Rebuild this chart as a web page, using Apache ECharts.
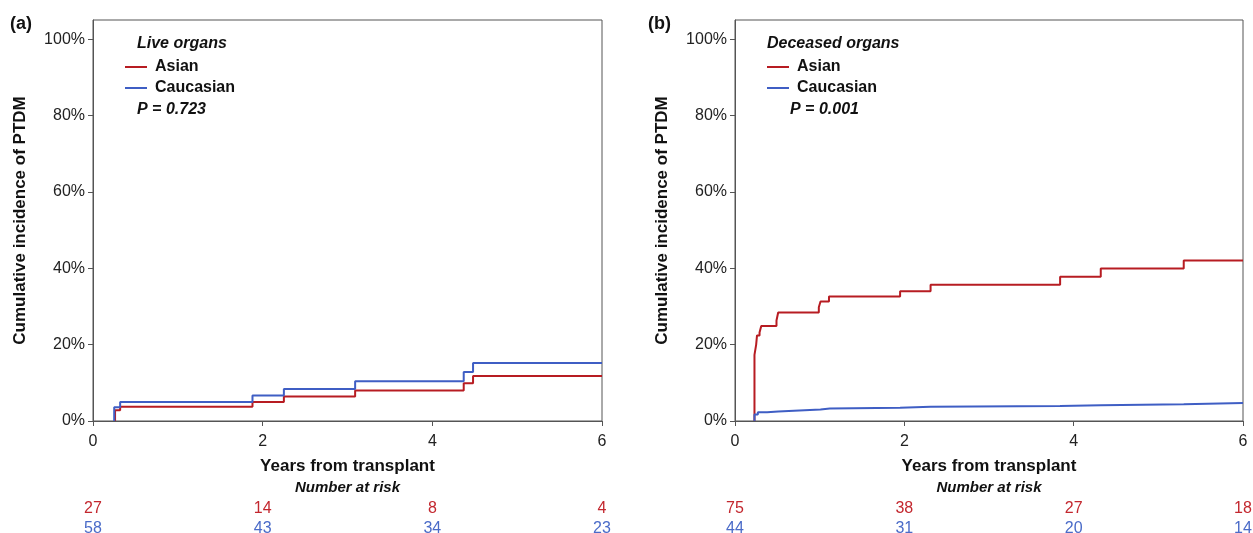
<!DOCTYPE html>
<html>
<head>
<meta charset="utf-8">
<title>Cumulative incidence of PTDM</title>
<script src="https://cdn.jsdelivr.net/npm/echarts@6/dist/echarts.min.js"></script>
<style>
    html, body { margin: 0; padding: 0; background: #fff; }
    #chart { width: 1253px; height: 533px; }
</style>
</head>
<body>
<div id="chart"></div>
<script>
// step curves: [years, cumulative %]
const liveAsian = [[0.26, 0], [0.26, 2.8], [0.32, 3.7], [1.88, 5.0], [2.25, 6.4], [3.09, 8.0], [4.37, 9.9], [4.48, 11.8], [6, 11.8]];
const liveCaucasian = [[0.25, 0], [0.25, 3.6], [0.32, 5.0], [1.88, 6.7], [2.25, 8.4], [3.09, 10.4], [4.37, 12.8], [4.48, 15.2], [6, 15.2]];
const deceasedAsian = [[0.23, 0], [0.23, 17.3], [0.25, 20.0], [0.26, 22.4], [0.29, 23.2], [0.31, 24.9], [0.49, 26.3], [0.51, 28.4],
    [0.99, 29.8], [1.01, 31.3], [1.11, 32.6], [1.95, 34.0], [2.31, 35.7], [3.84, 37.8], [4.32, 39.9], [5.30, 42.0], [6, 42.0]];
const deceasedCaucasian = [[0.23, 0], [0.23, 1.7], [0.27, 2.3], [0.38, 2.5], [0.51, 3.0], [1.01, 3.3], [1.12, 3.5], [1.95, 3.7],
    [2.31, 3.9], [3.84, 4.1], [4.32, 4.4], [5.30, 4.7], [6, 4.7]];

// number at risk at 0, 2, 4, 6 years
const xTicks = [0, 2, 4, 6];
const yTicks = [0, 20, 40, 60, 80, 100];
const riskLiveAsian = [27, 14, 8, 4];
const riskLiveCaucasian = [58, 43, 34, 23];
const riskDeceasedAsian = [75, 38, 27, 18];
const riskDeceasedCaucasian = [44, 31, 20, 14];

const RED = '#b71c22';
const BLUE = '#3f5ec4';
const RED_TXT = '#c3272e';
const BLUE_TXT = '#4a6bc8';
const FONT = "'Liberation Sans', Arial, sans-serif";

const grids = [
    { left: 93, top: 20, width: 509, height: 401 },
    { left: 735, top: 20, width: 508, height: 401 }
];

function mainXAxis(gridIndex) {
    return {
        type: 'value', gridIndex: gridIndex, min: 0, max: 6, interval: 2,
        name: '{a|Years from transplant}\n{b|Number at risk}',
        nameLocation: 'middle', nameGap: 34,
        nameTextStyle: {
            rich: {
                a: { fontFamily: FONT, fontSize: 17, fontWeight: 'bold', color: '#111', lineHeight: 22 },
                b: { fontFamily: FONT, fontSize: 15, fontWeight: 'bold', fontStyle: 'italic', color: '#111', lineHeight: 22 }
            }
        },
        axisLine: { show: true, lineStyle: { color: '#555', width: 1 } },
        axisTick: { show: true, inside: false, length: 5, lineStyle: { color: '#555' } },
        axisLabel: { margin: 13, fontFamily: FONT, fontSize: 16, color: '#222' },
        splitLine: { show: false }
    };
}

// extra bottom axes that only print the number at risk under each tick
function riskAxis(gridIndex, counts, color, offset) {
    return {
        type: 'value', gridIndex: gridIndex, min: 0, max: 6, interval: 2,
        position: 'bottom', offset: offset,
        axisLine: { show: false }, axisTick: { show: false }, splitLine: { show: false },
        axisLabel: {
            margin: 8, fontFamily: FONT, fontSize: 16, color: color,
            formatter: function (v) { return String(counts[xTicks.indexOf(v)]); }
        }
    };
}

function yAxis(gridIndex) {
    return {
        type: 'value', gridIndex: gridIndex, min: 0, max: 105,
        name: 'Cumulative incidence of PTDM', nameLocation: 'middle', nameGap: 64,
        nameTextStyle: { fontFamily: FONT, fontSize: 17, fontWeight: 'bold', color: '#111' },
        axisLine: { show: true, lineStyle: { color: '#555', width: 1 } },
        axisTick: { show: true, inside: false, length: 5, customValues: yTicks, lineStyle: { color: '#555' } },
        axisLabel: {
            margin: 8, fontFamily: FONT, fontSize: 16, color: '#222', customValues: yTicks,
            formatter: function (v) { return v + '%'; }
        },
        splitLine: { show: false }
    };
}

function curve(name, data, color, axisIndex) {
    return {
        type: 'line', name: name, step: 'end', data: data,
        xAxisIndex: axisIndex, yAxisIndex: axisIndex === 0 ? 0 : 1,
        symbol: 'none', animation: false,
        lineStyle: { color: color, width: 2 }, itemStyle: { color: color }
    };
}

function legend(left) {
    return {
        left: left, top: 59, padding: 0, orient: 'vertical',
        icon: 'rect', itemWidth: 22, itemHeight: 2, itemGap: 5,
        selectedMode: false, data: ['Asian', 'Caucasian'],
        textStyle: { fontFamily: FONT, fontSize: 16, fontWeight: 'bold', color: '#111', padding: [0, 0, 0, 3] }
    };
}

function label(text, left, top, size, style) {
    return {
        text: text, left: left, top: top, padding: 0,
        textStyle: { fontFamily: FONT, fontSize: size, fontWeight: 'bold', fontStyle: style, color: '#111' }
    };
}

const option = {
    backgroundColor: '#fff',
    animation: false,
    title: [
        label('(a)', 10, 15, 18, 'normal'),
        label('(b)', 648, 15, 18, 'normal'),
        label('Live organs', 137, 36, 16, 'italic'),
        label('P = 0.723', 137, 102, 16, 'italic'),
        label('Deceased organs', 767, 36, 16, 'italic'),
        label('P = 0.001', 790, 102, 16, 'italic')
    ],
    legend: [legend(125), legend(767)],
    grid: grids.map(function (g) {
        return Object.assign({
            show: true, borderColor: '#555', borderWidth: 1, backgroundColor: 'transparent',
            outerBoundsMode: 'none', containLabel: false
        }, g);
    }),
    xAxis: [
        mainXAxis(0),
        mainXAxis(1),
        riskAxis(0, riskLiveAsian, RED_TXT, 72),
        riskAxis(0, riskLiveCaucasian, BLUE_TXT, 92),
        riskAxis(1, riskDeceasedAsian, RED_TXT, 72),
        riskAxis(1, riskDeceasedCaucasian, BLUE_TXT, 92)
    ],
    yAxis: [yAxis(0), yAxis(1)],
    series: [
        curve('Asian', liveAsian, RED, 0),
        curve('Caucasian', liveCaucasian, BLUE, 0),
        curve('Asian', deceasedAsian, RED, 1),
        curve('Caucasian', deceasedCaucasian, BLUE, 1)
    ]
};

const chart = echarts.init(document.getElementById('chart'), null, { renderer: 'canvas' });
chart.setOption(option);
</script>
</body>
</html>
